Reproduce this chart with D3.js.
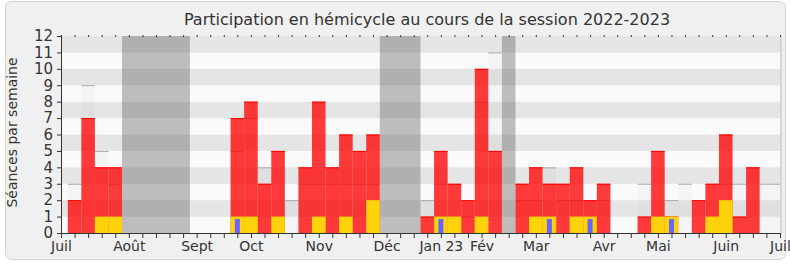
<!DOCTYPE html>
<html>
<head>
<meta charset="utf-8">
<title>Participation en hémicycle</title>
<script src="https://cdn.jsdelivr.net/npm/d3@7"></script>
<style>
  body { margin: 0; background: #fff; }
  text { font-family: "DejaVu Sans", sans-serif; }
</style>
</head>
<body>
<div id="chart"></div>
<script>
// semaines 0..53, de juillet 2022 a juillet 2023
var weeks = d3.range(0, 54);

var presences = [0, 2, 7, 4, 4, 0, 0, 0, 0, 0,
                 0, 0, 0, 7, 8, 3, 5, 0, 4, 8,
                 4, 6, 5, 6, 0, 0, 0, 1, 5, 3,
                 2, 10, 5, 0, 3, 4, 3, 3, 4, 2,
                 3, 0, 0, 1, 5, 1, 0, 2, 3, 6,
                 1, 4, 0, 0];

var interventions = [0, 0, 0, 1, 1, 0, 0, 0, 0, 0,
                     0, 0, 0, 1, 1, 0, 1, 0, 0, 1,
                     0, 1, 0, 2, 0, 0, 0, 0, 1, 1,
                     0, 1, 0, 0, 0, 1, 1, 0, 1, 1,
                     0, 0, 0, 0, 1, 1, 0, 0, 1, 2,
                     0, 0, 0, 0];

var questions = [0, 0, 0, 0, 0, 0, 0, 0, 0, 0,
                 0, 0, 0, 1, 0, 0, 0, 0, 0, 0,
                 0, 0, 0, 0, 0, 0, 0, 0, 1, 0,
                 0, 0, 0, 0, 0, 0, 1, 0, 0, 1,
                 0, 0, 0, 0, 0, 1, 0, 0, 0, 0,
                 0, 0, 0, 0];

// mediane des presences des deputes
var mediane = [0, 3, 9, 5, 3, 0, 0, 0, 0, 0,
               0, 0, 0, 5, 7, 4, 0, 2, 3, 3,
               3, 3, 3, 3, 0, 0, 0, 2, 3, 0,
               1, 8, 11, 0, 2, 2, 4, 2, 2, 0,
               2, 0, 0, 3, 0, 2, 3, 0, 0, 3,
               3, 0, 3, 3];

// vacances parlementaires (semaines)
var vacDebut = [5, 24, 33];
var vacFin = [9, 26, 33];

var moisSemaines = [0, 5, 10, 14, 19, 24, 28, 31, 35, 40, 44, 49, 53];
var moisLabels = ["Juil", "Août", "Sept", "Oct", "Nov", "Déc", "Jan 23", "Fév", "Mar", "Avr", "Mai", "Juin", "Juil"];

var yTicks = d3.range(0, 13);

var width = 790, height = 267;
var pLeft = 61, pRight = 780, pTop = 36, pBottom = 233;

var svg = d3.select("#chart").append("svg")
    .attr("width", width)
    .attr("height", height);

svg.append("rect")
    .attr("x", 5.5).attr("y", 1.5)
    .attr("width", 780).attr("height", 258)
    .attr("rx", 6)
    .attr("fill", "#f0f0f0")
    .attr("stroke", "#d4d4d4");

var x = d3.scaleLinear().domain([0, 53]).range([pLeft, pRight]);
var y = d3.scaleLinear().domain([0, 12]).range([pBottom, pTop]);
var bw = x(1) - x(0);

svg.append("clipPath").attr("id", "clip")
    .append("rect")
    .attr("x", pLeft).attr("y", pTop)
    .attr("width", pRight - pLeft).attr("height", pBottom - pTop);

var plot = svg.append("g").attr("clip-path", "url(#clip)");

// bandes
plot.selectAll(".band")
    .data(d3.range(0, 12))
    .enter().append("rect")
    .attr("x", pLeft)
    .attr("width", pRight - pLeft)
    .attr("y", function (d) { return y(d + 1); })
    .attr("height", function (d) { return y(d) - y(d + 1); })
    .attr("fill", function (d) { return d % 2 ? "#e5e5e5" : "#fafafa"; });

// vacances
plot.selectAll(".vac")
    .data(vacDebut)
    .enter().append("rect")
    .attr("x", function (d) { return x(d - 0.5); })
    .attr("width", function (d, i) { return x(vacFin[i] + 0.5) - x(d - 0.5); })
    .attr("y", pTop)
    .attr("height", pBottom - pTop)
    .attr("fill", "rgba(90,90,90,0.38)");

// mediane
var med = plot.selectAll(".med")
    .data(weeks.filter(function (w) { return mediane[w] > 0; }))
    .enter();
med.append("rect")
    .attr("x", function (w) { return x(w - 0.5); })
    .attr("width", bw)
    .attr("y", function (w) { return y(mediane[w]); })
    .attr("height", function (w) { return y(0) - y(mediane[w]); })
    .attr("fill", "rgba(0,0,0,0.025)");
med.append("line")
    .attr("x1", function (w) { return x(w - 0.5); })
    .attr("x2", function (w) { return x(w + 0.5); })
    .attr("y1", function (w) { return y(mediane[w]) + 0.5; })
    .attr("y2", function (w) { return y(mediane[w]) + 0.5; })
    .attr("stroke", "#aaa");

// presences
var pres = plot.selectAll(".pres")
    .data(weeks.filter(function (w) { return presences[w] > 0; }))
    .enter();
pres.append("rect")
    .attr("x", function (w) { return x(w - 0.5); })
    .attr("width", bw)
    .attr("y", function (w) { return y(presences[w]); })
    .attr("height", function (w) { return y(0) - y(presences[w]); })
    .attr("fill", "rgba(255,0,0,0.77)");
pres.append("line")
    .attr("x1", function (w) { return x(w - 0.5); })
    .attr("x2", function (w) { return x(w + 0.5); })
    .attr("y1", function (w) { return y(presences[w]) + 0.5; })
    .attr("y2", function (w) { return y(presences[w]) + 0.5; })
    .attr("stroke", "#ff0000");

// interventions
plot.selectAll(".inter")
    .data(weeks.filter(function (w) { return interventions[w] > 0; }))
    .enter().append("rect")
    .attr("x", function (w) { return x(w - 0.5); })
    .attr("width", bw)
    .attr("y", function (w) { return y(interventions[w]); })
    .attr("height", function (w) { return y(0) - y(interventions[w]); })
    .attr("fill", "#ffd30b");

// questions orales
var qScale = 0.85;
plot.selectAll(".quest")
    .data(weeks.filter(function (w) { return questions[w] > 0; }))
    .enter().append("rect")
    .attr("x", function (w) { return x(w) - 2.5; })
    .attr("width", 5)
    .attr("y", function (w) { return y(questions[w] * qScale); })
    .attr("height", function (w) { return y(0) - y(questions[w] * qScale); })
    .attr("fill", "#6666ff");

// bord droit
svg.append("line")
    .attr("x1", pRight + 1).attr("x2", pRight + 1)
    .attr("y1", pTop).attr("y2", pBottom)
    .attr("stroke", "#bbb");

// axes
var gx = svg.append("g")
    .attr("transform", "translate(0," + pBottom + ")")
    .call(d3.axisBottom(x).tickValues(weeks).tickSize(5).tickFormat(""));

var gxl = svg.append("g")
    .attr("transform", "translate(0," + pBottom + ")")
    .call(d3.axisBottom(x).tickValues(moisSemaines).tickSize(0).tickPadding(8)
        .tickFormat(function (d, i) { return moisLabels[i]; }));
gxl.select(".domain").remove();
gxl.selectAll("text")
    .attr("font-size", 14)
    .attr("font-family", "DejaVu Sans, sans-serif")
    .attr("fill", "#333");

var gt = svg.append("g")
    .attr("transform", "translate(0," + (pTop + 1) + ")")
    .call(d3.axisTop(x).tickValues(weeks).tickSize(2).tickFormat(""));
gt.select(".domain").remove();

var gy = svg.append("g")
    .attr("transform", "translate(" + pLeft + ",0)")
    .call(d3.axisLeft(y).tickValues(yTicks).tickSize(4).tickPadding(4).tickSizeOuter(0));
gy.selectAll("text")
    .attr("font-size", 15)
    .attr("font-family", "DejaVu Sans, sans-serif")
    .attr("fill", "#333");

svg.selectAll(".domain, .tick line").attr("stroke", "#333");

svg.append("text")
    .attr("transform", "translate(17," + ((pTop + pBottom) / 2 - 2) + ") rotate(-90)")
    .attr("text-anchor", "middle")
    .attr("font-size", 14)
    .attr("fill", "#333")
    .text("Séances par semaine");

svg.append("text")
    .attr("x", 427)
    .attr("y", 25)
    .attr("text-anchor", "middle")
    .attr("font-size", 16)
    .attr("fill", "#333")
    .text("Participation en hémicycle au cours de la session 2022-2023");
</script>
</body>
</html>
